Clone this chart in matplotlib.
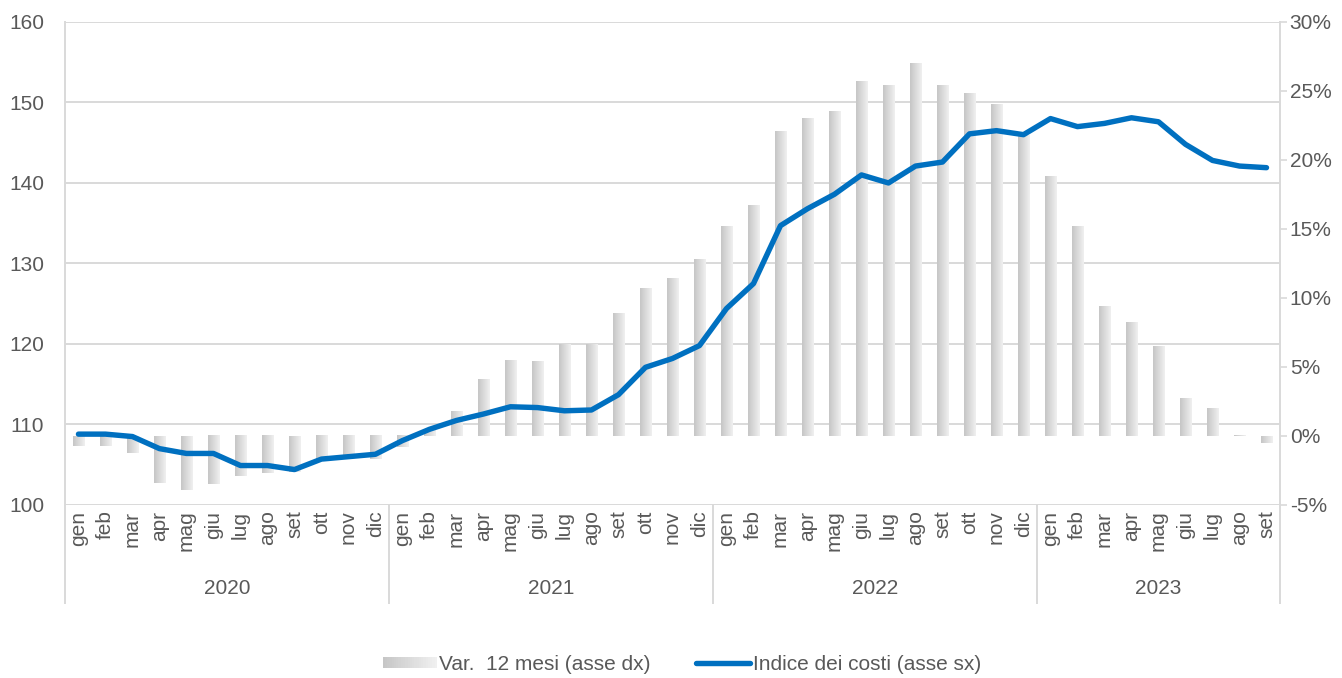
import numpy as np
import matplotlib
matplotlib.use("Agg")
import matplotlib.pyplot as plt
from matplotlib.colors import LinearSegmentedColormap
from matplotlib.lines import Line2D
from matplotlib.patches import Rectangle
from matplotlib.legend_handler import HandlerBase
import matplotlib.transforms as mtransforms

plt.rcParams['font.family'] = ['Liberation Sans', 'DejaVu Sans']

# ---- data ---------------------------------------------------------------
months = ['gen', 'feb', 'mar', 'apr', 'mag', 'giu', 'lug', 'ago', 'set', 'ott', 'nov', 'dic']
years = ['2020', '2021', '2022', '2023']
months_per_year = [12, 12, 12, 9]
month_labels = [m for n in months_per_year for m in months[:n]]

# cost index (left axis)
index_2020 = [108.8, 108.8, 108.5, 107.0, 106.4, 106.4, 104.9, 104.9, 104.4, 105.7, 106.0, 106.3]
index_2021 = [108.0, 109.4, 110.5, 111.3, 112.2, 112.1, 111.7, 111.8, 113.7, 117.1, 118.2, 119.8]
index_2022 = [124.4, 127.5, 134.7, 136.8, 138.6, 141.0, 140.0, 142.1, 142.6, 146.1, 146.5, 146.0]
index_2023 = [148.0, 147.0, 147.4, 148.1, 147.6, 144.8, 142.8, 142.1, 141.9]

# 12-month change, % (right axis)
var_2020 = [-0.7, -0.7, -1.2, -3.4, -3.9, -3.5, -2.9, -2.7, -2.6, -1.7, -1.7, -1.7]
var_2021 = [-0.8, 0.5, 1.8, 4.1, 5.5, 5.4, 6.6, 6.6, 8.9, 10.7, 11.4, 12.8]
var_2022 = [15.2, 16.7, 22.1, 23.0, 23.5, 25.7, 25.4, 27.0, 25.4, 24.8, 24.0, 21.8]
var_2023 = [18.8, 15.2, 9.4, 8.2, 6.5, 2.7, 2.0, 0.05, -0.5]

left_ticks = [100, 110, 120, 130, 140, 150, 160]
right_ticks = [-5, 0, 5, 10, 15, 20, 25, 30]

index_vals = np.array(index_2020 + index_2021 + index_2022 + index_2023)
var_vals = np.array(var_2020 + var_2021 + var_2022 + var_2023)
x = np.arange(len(month_labels))

# ---- style --------------------------------------------------------------
TXT = '#595959'
GRID = '#D9D9D9'
BLUE = '#0070C0'
FS = 15
bar_cmap = LinearSegmentedColormap.from_list('bargrad', ['#c6c6c6', '#f0f0f0'])

fig = plt.figure(figsize=(13.42, 6.78), dpi=100)
ax = fig.add_axes([0.0484, 0.2552, 0.9054, 0.7124])
ax2 = ax.twinx()

# left axis: grid + labels
ax.set_xlim(-0.5, len(x) - 0.5)
ax.set_ylim(left_ticks[0], left_ticks[-1])
ax.set_yticks(left_ticks)
ax.yaxis.grid(True, color=GRID, linewidth=1.4)
ax.set_axisbelow(True)
ax.tick_params(axis='y', length=0, labelsize=FS, labelcolor=TXT, pad=15)
ax.set_xticks(x, month_labels, rotation=90)
ax.tick_params(axis='x', length=0, labelsize=FS, labelcolor=TXT, pad=4)
for s in ax.spines.values():
    s.set_visible(False)

# right axis: gradient bars
bars = ax2.bar(x, var_vals, width=0.41, color='none', edgecolor='none', zorder=2)
grad = np.linspace(0, 1, 64).reshape(1, -1)
for b in bars:
    x0, y0, w, h = b.get_x(), b.get_y(), b.get_width(), b.get_height()
    ax2.imshow(grad, extent=(x0, x0 + w, y0, y0 + h), cmap=bar_cmap,
               aspect='auto', interpolation='bilinear', zorder=2)

# cost index line, drawn above the bars but in left-axis units
ax2.plot(x, index_vals, color=BLUE, linewidth=3.9, solid_capstyle='round',
         solid_joinstyle='round', transform=ax.transData, zorder=3)

ax2.set_xlim(-0.5, len(x) - 0.5)
ax2.set_ylim(right_ticks[0], right_ticks[-1])
ax2.set_yticks(right_ticks, [f'{t}%' for t in right_ticks])
ax2.tick_params(axis='y', length=5, width=1.2, color=GRID, labelsize=FS,
                labelcolor=TXT, pad=2)
for s in ax2.spines.values():
    s.set_visible(False)

# frame lines extending under the category axis
y_bottom = -0.203
for xa in (0, 1):
    ax.add_line(Line2D([xa, xa], [y_bottom, 1], transform=ax.transAxes,
                       color=GRID, linewidth=1.4, clip_on=False))

# year groups
blend = mtransforms.blended_transform_factory(ax.transData, ax.transAxes)
start = 0
for yr, n in zip(years, months_per_year):
    ax.text(start + (n - 1) / 2, -0.172, yr, transform=blend, ha='center',
            va='center', fontsize=FS, color=TXT)
    end = start + n
    if end < len(x):
        ax.add_line(Line2D([end - 0.5, end - 0.5], [y_bottom, 0], transform=blend,
                           color=GRID, linewidth=1.4, clip_on=False))
    start = end


# legend with a gradient key for the bars
class GradientHandler(HandlerBase):
    def create_artists(self, legend, orig_handle, xdescent, ydescent, width,
                       height, fontsize, trans):
        n = 24
        arts = []
        for i in range(n):
            r = Rectangle((-xdescent + width * i / n, -ydescent + height * 0.1),
                          width / n * 1.05, height * 0.8,
                          facecolor=bar_cmap(i / (n - 1)), edgecolor='none',
                          transform=trans)
            arts.append(r)
        return arts


bar_key = Rectangle((0, 0), 1, 1)
line_key = Line2D([], [], color=BLUE, linewidth=3.9, solid_capstyle='round')
fig.legend([bar_key, line_key],
           ['Var.  12 mesi (asse dx)', 'Indice dei costi (asse sx)'],
           handler_map={Rectangle: GradientHandler()},
           loc='center', bbox_to_anchor=(0.508, 0.02), ncol=2, frameon=False,
           fontsize=FS, labelcolor=TXT, handlelength=2.6, handletextpad=0.1,
           columnspacing=2.2)

fig.savefig('out.png', dpi=100)
